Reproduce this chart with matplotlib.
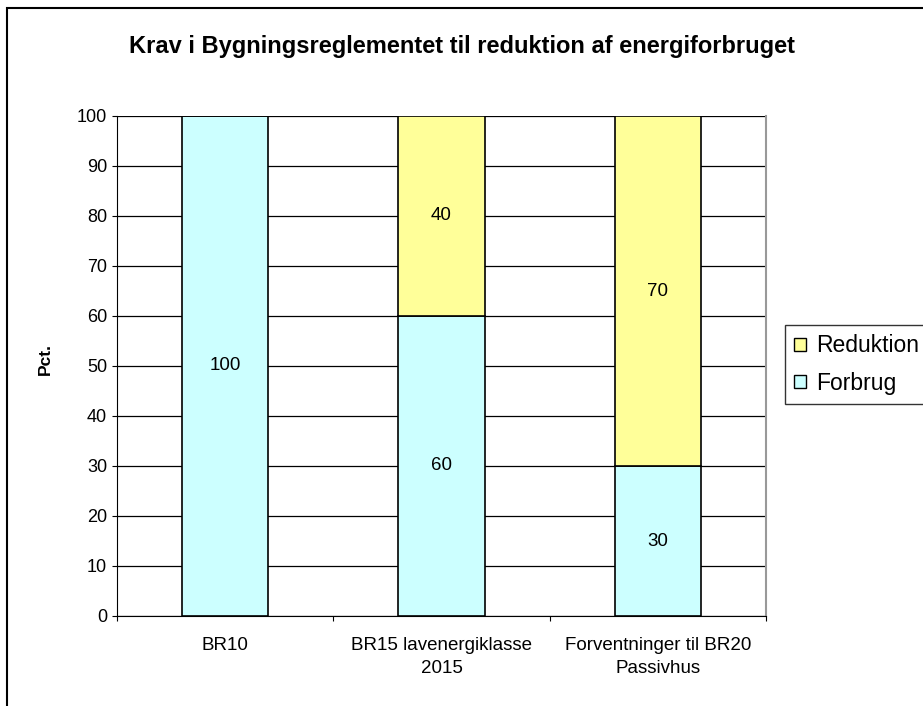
import matplotlib.pyplot as plt
from matplotlib.patches import Patch, Rectangle

plt.rcParams["font.family"] = ["Liberation Sans", "DejaVu Sans"]

categories = ["BR10", "BR15 lavenergiklasse\n2015", "Forventninger til BR20\nPassivhus"]
forbrug = [100, 60, 30]
reduktion = [0, 40, 70]
yticks = list(range(0, 101, 10))

color_forbrug = "#CCFFFF"
color_reduktion = "#FFFF99"

W, H = 923, 706
fig = plt.figure(figsize=(W / 100, H / 100), dpi=100)
ax = fig.add_axes([117 / W, 1 - 616 / H, 649 / W, 500 / H])

x = list(range(len(categories)))
ax.bar(x, forbrug, width=0.4, color=color_forbrug, edgecolor="black", linewidth=1.2, zorder=3)
ax.bar(x, reduktion, width=0.4, bottom=forbrug, color=color_reduktion,
       edgecolor="black", linewidth=1.2, zorder=3)

# value labels in the middle of each segment
for i in x:
    if forbrug[i] > 0:
        ax.text(i, forbrug[i] / 2, str(forbrug[i]), ha="center", va="center", fontsize=13.5, zorder=4)
    if reduktion[i] > 0:
        ax.text(i, forbrug[i] + reduktion[i] / 2, str(reduktion[i]), ha="center", va="center",
                fontsize=13.5, zorder=4)

ax.set_xlim(-0.5, len(categories) - 0.5)
ax.set_ylim(0, 100)
ax.set_yticks(yticks)
ax.yaxis.grid(True, color="black", linewidth=0.9, zorder=0)

# category boundaries as tick marks, labels at centres
ax.set_xticks([-0.5 + k for k in range(len(categories) + 1)])
ax.set_xticklabels([])
ax.set_xticks(x, minor=True)
ax.set_xticklabels(categories, minor=True, fontsize=13.5, linespacing=1.5)
ax.tick_params(axis="x", which="minor", length=0, pad=15)
ax.tick_params(axis="x", which="major", direction="out", length=3.6, color="black")
ax.tick_params(axis="y", direction="out", length=3.6, labelsize=13, pad=3.6)

ax.spines["left"].set_color("black")
ax.spines["bottom"].set_color("black")
ax.spines["top"].set_visible(False)
ax.spines["right"].set_color("#999999")
ax.spines["right"].set_linewidth(1.5)

fig.text(45 / W, 1 - 359 / H, "Pct.", rotation=90, ha="center", va="center",
         fontsize=12.5, fontweight="bold")

fig.text(462 / W, 1 - 47 / H, "Krav i Bygningsreglementet til reduktion af energiforbruget",
         ha="center", va="center", fontsize=17, fontweight="bold")

handles = [Patch(facecolor=color_reduktion, edgecolor="black", label="Reduktion"),
           Patch(facecolor=color_forbrug, edgecolor="black", label="Forbrug")]
leg = fig.legend(handles=handles, loc="upper left", bbox_to_anchor=(785 / W, 1 - 325 / H),
                 borderaxespad=0, fontsize=16.5, frameon=True, fancybox=False, edgecolor="black",
                 handlelength=0.5, handleheight=0.5, handletextpad=0.45, borderpad=0.4,
                 labelspacing=0.65)
leg.get_frame().set_linewidth(1.0)

# outer chart border
fig.patches.append(Rectangle((7 / W, -0.05), 1.1, 1 - 8 / H + 0.05, transform=fig.transFigure,
                             fill=False, edgecolor="black", linewidth=1.5))

fig.savefig("out.png", dpi=100)
